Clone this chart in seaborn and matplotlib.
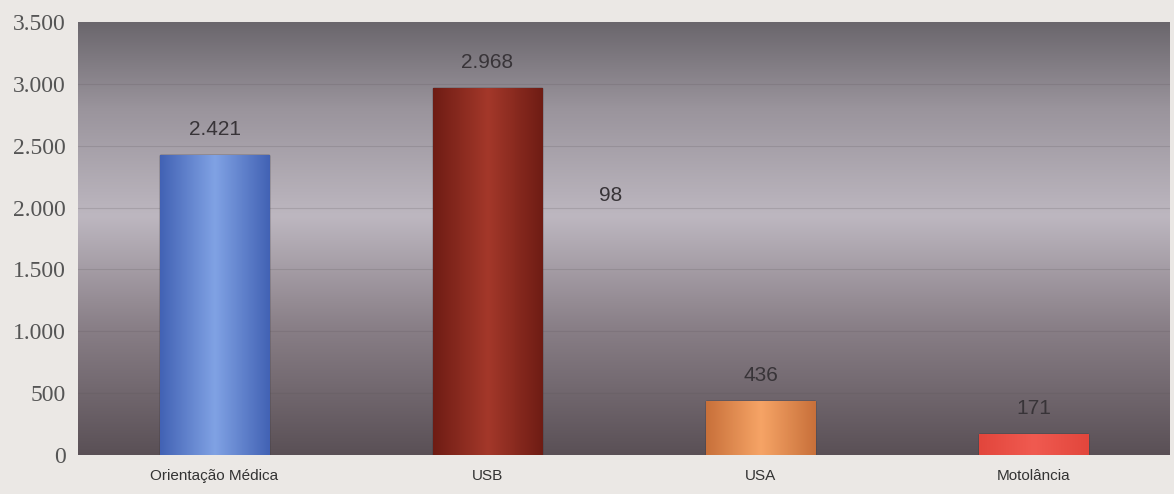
import numpy as np
import pandas as pd
import matplotlib
matplotlib.use("Agg")
import matplotlib.pyplot as plt
from matplotlib.colors import LinearSegmentedColormap
from matplotlib import font_manager
import seaborn as sns

# data
categories = ["Orientação Médica", "USB", "USA", "Motolância"]
values = [2421, 2968, 436, 171]
value_labels = ["2.421", "2.968", "436", "171"]
bar_edges = ["#4262b4", "#6e1c14", "#c8703a", "#e2463c"]
bar_centers = ["#80a2e4", "#a4382a", "#f6a466", "#f05a50"]
stray_label = "98"
stray_pos = (1.45, 2100)
yticks = [0, 500, 1000, 1500, 2000, 2500, 3000, 3500]
ytick_labels = ["0", "500", "1.000", "1.500", "2.000", "2.500", "3.000", "3.500"]

names = {f.name for f in font_manager.fontManager.ttflist}
narrow = "Liberation Sans Narrow" if "Liberation Sans Narrow" in names else "Liberation Sans"

sns.set_style("white")
plt.rcParams["font.family"] = ["Liberation Sans", "DejaVu Sans"]

fig = plt.figure(figsize=(11.74, 4.94), dpi=100)
fig.patch.set_facecolor("#ebe8e5")
ax = fig.add_axes([78 / 1174, 39 / 494, 1092 / 1174, 433 / 494])

df = pd.DataFrame({"cat": categories, "val": values})
sns.barplot(data=df, x="cat", y="val", hue="cat", palette=bar_edges,
            width=0.40, legend=False, ax=ax, zorder=3)

ax.set_xlim(-0.5, 3.5)
ax.set_ylim(0, 3500)

# background gradient: dark top, light middle, dark bottom
bg = LinearSegmentedColormap.from_list(
    "bg", [(0.0, "#5a5056"), (0.3, "#8a8088"), (0.55, "#bdb7c0"),
           (0.8, "#9a949c"), (1.0, "#6a666c")])
grad = np.linspace(0, 1, 256).reshape(-1, 1)
ax.imshow(grad, cmap=bg, aspect="auto", extent=(-0.5, 3.5, 0, 3500),
          origin="lower", zorder=0)

for y in yticks[1:-1]:
    ax.axhline(y, color="#5a5258", lw=0.8, alpha=0.2, zorder=1)

# horizontal shading on each bar
xs = np.linspace(0, 1, 256)
shade = np.abs(xs - 0.5).reshape(1, -1) * 2
for patch, c_edge, c_mid in zip(ax.patches, bar_edges, bar_centers):
    cmap = LinearSegmentedColormap.from_list("b", [c_mid, c_edge])
    x0, y0 = patch.get_x(), patch.get_y()
    w, h = patch.get_width(), patch.get_height()
    im = ax.imshow(shade, cmap=cmap, aspect="auto",
                   extent=(x0, x0 + w, y0, y0 + h), zorder=4)
    im.set_clip_path(patch)
    patch.set_edgecolor("#2e2a2e")
    patch.set_linewidth(1.0)

for i, (v, lab) in enumerate(zip(values, value_labels)):
    ax.text(i, v + 130, lab, ha="center", va="bottom", fontsize=15,
            color="#383438", family=[narrow, "DejaVu Sans"], zorder=5)
ax.text(stray_pos[0], stray_pos[1], stray_label, ha="center", va="center",
        fontsize=15, color="#383438", family=[narrow, "DejaVu Sans"], zorder=5)

ax.set_yticks(yticks)
ax.set_yticklabels(ytick_labels, family=["Liberation Serif", "DejaVu Serif"],
                   fontsize=17, color="#555555")
ax.set_xticks(range(len(categories)))
ax.set_xticklabels(categories, family=[narrow, "DejaVu Sans"], fontsize=11,
                   color="#333333")
ax.tick_params(axis="y", length=5, color="#999999", pad=4)
ax.tick_params(axis="x", length=0, pad=10)
ax.set_xlabel("")
ax.set_ylabel("")
for s in ax.spines.values():
    s.set_visible(False)

fig.savefig("out.png", dpi=100, facecolor=fig.get_facecolor())
